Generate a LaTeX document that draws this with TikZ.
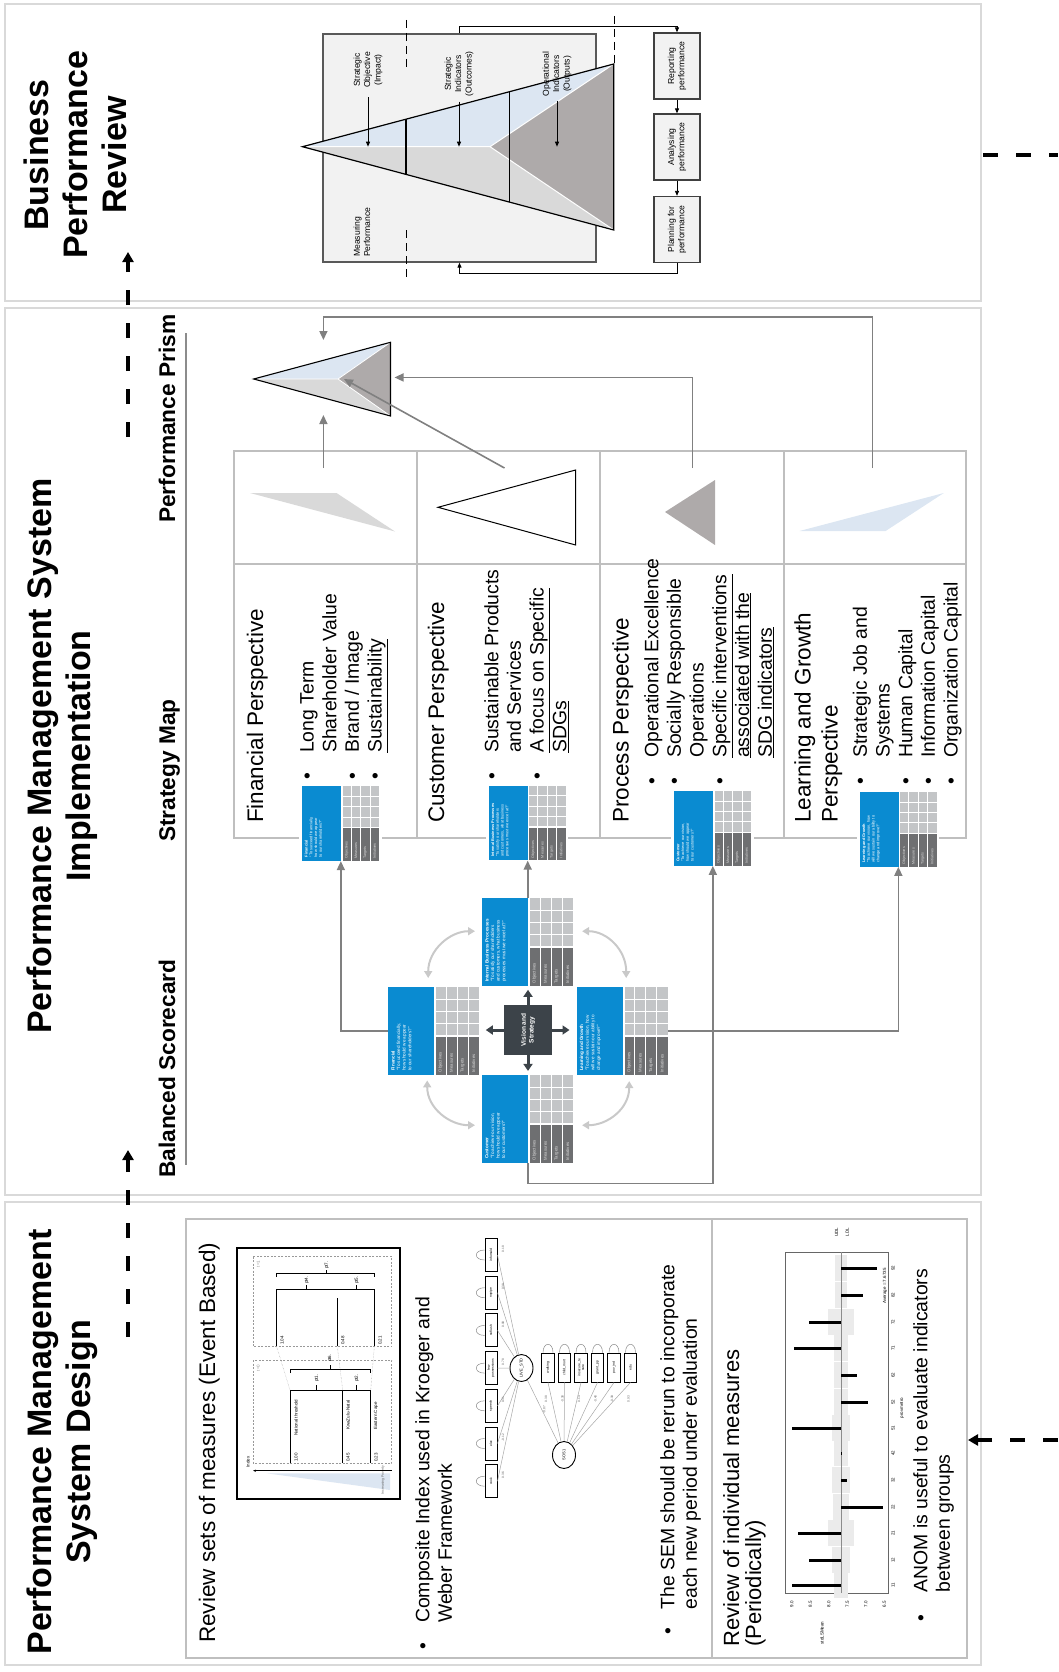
\documentclass[tikz,border=0pt]{standalone}
\usepackage{fontspec}
\setmainfont{Liberation Sans}
\usetikzlibrary{arrows.meta,calc,shapes.geometric}
\newcommand{\fsz}[2]{\fontsize{#1}{#2}\selectfont}
\newcommand{\itm}[1][27pt]{\makebox[#1][l]{\textbullet}}
\newcommand{\itmc}[1][27pt]{\hspace*{#1}}
\definecolor{pbord}{HTML}{D9D9D9}
\definecolor{tline}{HTML}{BFBFBF}
\definecolor{conn}{HTML}{808080}
\definecolor{lblue}{HTML}{DCE6F2}
\definecolor{lgray}{HTML}{D9D9D9}
\definecolor{dgray}{HTML}{AEAAAA}
\definecolor{rfill}{HTML}{F2F2F2}
\definecolor{bscblue}{HTML}{0A8BD1}
\definecolor{bsclight}{HTML}{C3C5C7}
\definecolor{bscdark}{HTML}{6E6F71}
\definecolor{vis}{HTML}{3C4349}
\definecolor{arcg}{HTML}{C9C9C9}
\tikzset{vt/.style={rotate=90,inner sep=0pt}}
\tikzset{ttl/.style={vt,font=\fsz{34}{39}\bfseries,align=center}}
\tikzset{sec/.style={vt,font=\fsz{22.7}{27}\bfseries}}
\tikzset{hd/.style={vt,font=\fsz{22.5}{27},align=left}}
\tikzset{lst/.style={vt,font=\fsz{19.4}{22.7},align=left}}
\tikzset{lbl/.style={vt,font=\fsz{8.6}{10.3},align=center}}
\tikzset{tnl/.style={vt,font=\fsz{4.5}{5.2},align=center}}
\tikzset{pbox/.style={vt,draw=black!75,fill=rfill,line width=1.3,minimum width=66,minimum height=46,font=\fsz{8.6}{10.3},align=center}}
\tikzset{panel/.style={draw=pbord,line width=2.5}}
\tikzset{tbl/.style={draw=tline,line width=1.6}}
\tikzset{con/.style={draw=conn,line width=1.6,-{Triangle[length=9pt,width=8pt]}}}
\tikzset{arcs/.style={draw=arcg,line width=2,{Triangle[length=7pt,width=8pt]}-{Triangle[length=7pt,width=8pt]}}}
\tikzset{varr/.style={draw=vis,line width=3,-{Triangle[length=7pt,width=9pt]}}}
\tikzset{dsh/.style={line width=4,dash pattern=on 15pt off 18pt}}
\tikzset{tarr/.style={line width=0.9,-{Triangle[length=5pt,width=4pt]}}}
\tikzset{semb/.style={vt,draw,line width=0.9,minimum width=33,minimum height=12,font=\fsz{3.4}{3.8},align=center}}
\tikzset{semc/.style={vt,ellipse,draw,line width=0.9,minimum width=27,minimum height=23,font=\fsz{4}{4.5}}}
\tikzset{semln/.style={draw=black!35,line width=0.5}}
\tikzset{semlp/.style={draw=black!45,line width=0.5}}
\tikzset{semn/.style={vt,font=\fsz{3.2}{3.6},text=black!60}}
\newcommand{\bsctile}[6]{%
\begin{scope}[shift={#2},scale=#3,transform shape]
  #6
  \node[minimum width=91,minimum height=88,inner sep=0pt,anchor=north west] (#1) at (0,0) {};
  \fill[bscblue] (0,0) rectangle (47,88);
  \fill[bsclight] (47,0) rectangle (91,49);
  \fill[bscdark] (47,49) rectangle (91,88);
  \foreach \k in {1,2,3} {
    \draw[white,line width=1] (47+11*\k,0) -- (47+11*\k,88);
    \draw[white,line width=1] (47,12.25*\k) -- (91,12.25*\k);}
  \draw[white,line width=1.6] (47,0) -- (47,88) (47,49) -- (91,49);
  \foreach \t [count=\k] in {Objectives,Measures,Targets,Initiatives}
    \node[vt,anchor=west,font=\fsz{4.3}{5},text=white!85!black] at (47+11*\k-5.5,85.5) {\t};
  \node[vt,anchor=north west,align=left,font=\fsz{4.6}{5.6},text=white] at (3,84) {\textbf{#4}\\#5};
\end{scope}}

\begin{document}
\begin{tikzpicture}[x=1pt,y=-1pt]
\useasboundingbox (0,0) rectangle (1058,1672);
\draw[panel] (5,4) rectangle (981,301);
\draw[panel] (5,308) rectangle (981,1195);
\draw[panel] (5,1202) rectangle (981,1665);

\node[ttl,anchor=north] (bpr) at (23.3,155) {Business\\Performance\\Review};
\node[ttl,anchor=north] (pmi) at (26.7,756) {Performance Management System\\Implementation};
\node[ttl,anchor=north] (pmd) at (26.7,1442) {Performance Management\\System Design};

\coordinate (d1a) at (128,1337);
\coordinate (d1b) at (128,1150);
\coordinate (d2a) at (128,437);
\coordinate (d2b) at (128,252);
\coordinate (d3a) at (983,155);
\coordinate (d3b) at (1058,155);
\coordinate (d4a) at (1058,1440);
\coordinate (d4b) at (968,1440);
\draw[dsh,-{Triangle[length=10pt,width=11pt]}] (d1a) -- (d1b);
\draw[dsh,-{Triangle[length=10pt,width=11pt]}] (d2a) -- (d2b);
\draw[dsh] (d3a) -- (d3b);
\draw[dsh,-{Triangle[length=10pt,width=11pt]}] (d4a) -- (d4b);

% business performance review
\node[draw=black!65,fill=rfill,line width=1.3,minimum width=273,minimum height=228,inner sep=0pt] (mp) at (459.5,148) {};
\coordinate (A) at (302.5,146.7);
\coordinate (T) at (613.7,64);
\coordinate (B) at (613.7,230);
\coordinate (I) at (490,146.7);
\fill[lblue] (A) -- (T) -- (I) -- cycle;
\fill[lgray] (A) -- (I) -- (B) -- cycle;
\fill[dgray] (T) -- (I) -- (B) -- cycle;
\draw[white,line width=1] (A) -- (I) -- (T) (I) -- (B);
\draw[line width=1.2] (A) -- (T) -- (B) -- cycle;
\draw[line width=1.1] (406,119.2) -- (406,174.4) (509.6,91.5) -- (509.6,202);
\draw[line width=0.8,dash pattern=on 8pt off 5pt] (406,20) -- (406,67) (406,230) -- (406,278) (614,16) -- (614,63);
\node[lbl] (so) at (368,70) {Strategic\\Objective\\(Impact)};
\node[lbl] (si) at (459,74) {Strategic\\Indicators\\(Outcomes)};
\node[lbl] (oi) at (557,74) {Operational\\Indicators\\(Outputs)};
\draw[tarr] ([yshift=-9pt]so.west) -- (so.west |- A);
\draw[tarr] ([yshift=-5pt]si.west) -- (si.west |- A);
\draw[tarr] ([yshift=-5pt]oi.west) -- (oi.west |- A);
\node[lbl,align=left,anchor=west] (mpl) at (362,257) {Measuring\\Performance};
\node[pbox] (rep) at (677,66) {Reporting\\performance};
\node[pbox] (ana) at (677,147) {Analysing\\performance};
\node[pbox] (pla) at (677,229.5) {Planning for\\performance};
\draw[tarr] (rep.west) -- (ana.east);
\draw[tarr] (ana.west) -- (pla.east);
\draw[tarr] (mp.north) -- ++(0,-7.3) -| (rep.east);
\draw[tarr] (pla.west) -- ++(0,10) -| (mp.south);

% performance management system implementation
\draw[draw=black!45,line width=1.3] (186,333) -- (186,1165);
\node[sec,anchor=base west] (bsc) at (175,1178) {Balanced Scorecard};
\node[sec,anchor=base west] (smap) at (175,842) {Strategy Map};
\node[sec,anchor=base west] (pprism) at (175,523) {Performance Prism};

\coordinate (pa) at (253.7,379);
\coordinate (pt) at (390.5,342.3);
\coordinate (pb) at (390.5,416);
\coordinate (pi) at (338,379);
\fill[lblue] (pa) -- (pt) -- (pi) -- cycle;
\fill[lgray] (pa) -- (pi) -- (pb) -- cycle;
\fill[dgray] (pt) -- (pi) -- (pb) -- cycle;
\draw[white,line width=0.8] (pa) -- (pi) -- (pt) (pi) -- (pb);
\draw[line width=1.1] (pa) -- (pt) -- (pb) -- cycle;

\draw[tbl] (234,451) rectangle (966,838);
\draw[tbl] (234,564) -- (966,564);
\foreach \x in {417,600,784} \draw[tbl] (\x,451) -- (\x,838);
\fill[lgray] (250,493) -- (336.5,493) -- (395,531.5) -- cycle;
\draw[fill=white,line width=1] (438,507.3) -- (575.6,470) -- (575.6,545) -- cycle;
\fill[dgray] (665,512) -- (715,480) -- (715,545) -- cycle;
\fill[lblue] (799.5,531) -- (885.6,531) -- (943.8,493) -- cycle;

\coordinate (i1) at (323.4,468);
\coordinate (i2) at (504.5,468);
\coordinate (i3) at (692.5,468);
\coordinate (i4) at (872.6,468);
\coordinate (pbot) at (323.4,415);
\coordinate (ptop) at (323.4,340);
\draw[con] (i1) -- (pbot);
\draw[con] (i2) -- ($(pi)+(6,0)$);
\draw[con] (i3) |- ($(pt)!0.5!(pb)+(4,-1.7)$);
\draw[con] (i4) |- ($(ptop)+(0,-23.3)$) -- (ptop);

\node[hd,anchor=base west] (fp) at (263,823) {Financial Perspective};
\node[lst,anchor=north west] (fl) at (300,780) {\itm Long Term\\\itmc Shareholder Value\\\itm Brand / Image\\\itm \underline{Sustainability}};
\node[hd,anchor=base west] (cp) at (444,823) {Customer Perspective};
\node[lst,anchor=north west] (cl) at (484,780) {\itm Sustainable Products\\\itmc and Services\\\itm \underline{A focus on Specific}\\\itmc \underline{SDGs}};
\node[hd,anchor=base west] (pp) at (628.6,823) {Process Perspective};
\node[lst,anchor=north west] (pl) at (644,785) {\itm Operational Excellence\\\itm Socially Responsible\\\itmc Operations\\\itm \underline{Specific interventions}\\\itmc \underline{associated with the}\\\itmc \underline{SDG indicators}};
\node[hd,anchor=north west] (lp) at (794,823) {Learning and Growth\\Perspective};
\node[lst,anchor=north west] (ll) at (852.6,785) {\itm Strategic Job and\\\itmc Systems\\\itm Human Capital\\\itm Information Capital\\\itm Organization Capital};

\bsctile{fin2}{(302,786)}{0.85}{Financial}{``To succeed financially,\\how should we appear\\to our shareholders?''}{\fill[white] (-3,-3) rectangle (94,91);}
\bsctile{ibp2}{(488.5,785.5)}{0.85}{Internal Business Processes}{``To satisfy our shareholders\\and customers, what business\\processes must we excel at?''}{\fill[white] (-3,-3) rectangle (94,91);}
\bsctile{cus2}{(674,790.7)}{0.85}{Customer}{``To achieve our vision,\\how should we appear\\to our customers?''}{\fill[white] (-3,-3) rectangle (94,91);}
\bsctile{lng2}{(859.5,791.7)}{0.85}{Learning and Growth}{``To achieve our vision, how\\will we sustain our ability to\\change and improve?''}{\fill[white] (-3,-3) rectangle (94,91);}

\bsctile{ibp}{(482,898)}{1}{Internal Business Processes}{``To satisfy our shareholders\\and customers, what business\\processes must we excel at?''}{}
\bsctile{fin}{(388,987)}{1}{Financial}{``To succeed financially,\\how should we appear\\to our shareholders?''}{}
\bsctile{lng}{(576.7,987)}{1}{Learning and Growth}{``To achieve our vision, how\\will we sustain our ability to\\change and improve?''}{}
\bsctile{cus}{(482,1075)}{1}{Customer}{``To achieve our vision,\\how should we appear\\to our customers?''}{}
\node[vt,fill=vis,minimum width=50,minimum height=48,text=white,font=\fsz{6.5}{7.8}\bfseries,align=center] (vs) at (528,1030) {Vision and\\Strategy};
\draw[varr] (vs.east) -- ++(0,-15);
\draw[varr] (vs.west) -- ++(0,15.7);
\draw[varr] (vs.north) -- ++(-18,0);
\draw[varr] (vs.south) -- ++(17.3,0);
\draw[arcs] ($(fin.north)+(-5.5,-9)$) .. controls +(0,-28) and +(-25,0) .. ($(ibp.west)+(-7,-11)$);
\draw[arcs] ($(ibp.east)+(8.7,-11)$) .. controls +(25,0) and +(0,-28) .. ($(lng.north)+(3.8,-9)$);
\draw[arcs] ($(fin.south)+(-6.5,5)$) .. controls +(0,28) and +(-25,0) .. ($(cus.west)+(-7,6)$);
\draw[arcs] ($(cus.east)+(8.7,6)$) .. controls +(25,0) and +(0,28) .. ($(lng.south)+(6.8,5.7)$);
\draw[con] (fin.west) -| (fin2.south);
\draw[con] (ibp.north) -- (ibp.north |- ibp2.south);
\draw[con] (lng.east) -| (lng2.south);
\draw[con] (cus.south) -- ++(0,20) -| (cus2.south);

% performance management system design
\draw[tbl] (186,1219) rectangle (967,1658);
\draw[tbl] (712,1219) -- (712,1658);
\node[hd,anchor=base west] (rs) at (215,1643) {Review sets of measures (Event Based)};
\node[draw,line width=1.2,fill=white,minimum width=163,minimum height=251,inner sep=0pt] (gbox) at (318.5,1373.5) {};
\draw[black!40,dash pattern=on 2pt off 1.5pt,line width=0.6] (253.3,1256.7) rectangle (391.7,1346.7) (253.3,1360) rectangle (391.7,1463.3);
\node[tnl,text=black!40] at (258.3,1264) {t=1};
\node[tnl,text=black!40] at (258.3,1368) {t=0};
\fill[lblue] (266.7,1473.3) -- (390,1473.3) -- (390,1490) -- cycle;
\node[tnl,text=black!60,font=\fsz{3.5}{4}] at (383,1480) {Increasing Poverty};
\draw[line width=0.6,-{Stealth[length=3pt]}] (391.7,1470.7) -- (253,1470.7);
\node[tnl] at (248,1462) {Index};
\draw[line width=1] (290,1390) -- (290,1463) (342.7,1390) -- (342.7,1463) (370.7,1390) -- (370.7,1463);
\draw[line width=1] (290,1390) -- (370.7,1390) (316.7,1390) -- (316.7,1385) (356.7,1390) -- (356.7,1385);
\draw[line width=1] (290.7,1373) -- (290.7,1369) -- (370.7,1369) -- (370.7,1373) (330,1369) -- (330,1365);
\node[tnl,anchor=west] at (296,1436) {National threshold};
\node[tnl,anchor=west] at (348,1430) {KwaZulu-Natal};
\node[tnl,anchor=west] at (376,1430) {Eastern Cape};
\node[tnl,anchor=west] at (296,1462) {1.00};
\node[tnl,anchor=west] at (348,1462) {0.45};
\node[tnl,anchor=west] at (376,1462) {0.23};
\node[tnl] at (316.7,1378) {pt1.};
\node[tnl] at (356.7,1378) {pt2.};
\node[tnl] at (330,1358) {pt6.};
\draw[line width=1] (276.7,1298) -- (276.7,1346) (337.3,1298) -- (337.3,1346) (374.3,1298) -- (374.3,1346);
\draw[line width=1] (276.7,1298) -- (276.7,1289) -- (374.3,1289) -- (374.3,1298) (306.7,1289) -- (306.7,1285) (356.7,1289) -- (356.7,1285);
\draw[line width=1] (276.7,1277) -- (276.7,1273) -- (374.3,1273) -- (374.3,1277) (326.7,1273) -- (326.7,1270);
\node[tnl] at (306.7,1280) {pt4.};
\node[tnl] at (356.7,1280) {pt5.};
\node[tnl] at (326.7,1265) {pt7.};
\node[tnl,anchor=west] at (282,1345) {1.04};
\node[tnl,anchor=west] at (342.7,1345) {0.48};
\node[tnl,anchor=west] at (380,1345) {0.21};
\draw[black!40,densely dotted] (290,1390) -- (276.7,1346.7) (342.7,1390) -- (337.3,1346.7) (370.7,1390) -- (374.3,1346.7);

\node[lst,anchor=north west] (ci) at (415,1650) {\itm Composite Index used in Kroeger and\\\itmc Weber Framework};
\node[semc] (live) at (521.5,1368) {LIVE\_STD};
\node[semc] (sos) at (564,1455) {SOS1};
\draw[semln] (sos) -- (live) node[pos=0.45,semn,right=1pt] {-0.87};
\foreach \t/\n [count=\k from 0] in {infomald/0.18,nopipe/0.38,noflush/0.90,few\\possessions/0.78,speech/0.31,elec/-0.12,cook/0.36} {
  \node[semb] (s\k) at (491,1255+37.7*\k) {\t};
  \draw[semln] (live) -- (s\k.south);
  \draw[semlp] ($(s\k.north)+(0,5)$) .. controls +(-11,0) and +(-11,0) .. ($(s\k.north)+(0,-5)$);
  \node[semn] at (503,1249+37.7*\k) {\n};
}
\foreach \t/\n [count=\k from 0] in {walking/0.38,child\_mort/-0.38,insecure\_te\\nure/0.14,grant\_pp/-0.40,pov\_ind/-0.39,edu/0.93} {
  \node[semb,minimum width=29,minimum height=12.6] (b\k) at (548+16.5*\k,1367.5) {\t};
  \draw[semln] (sos) -- (b\k.west);
  \draw[semlp] ($(b\k.east)+(-5,0)$) .. controls +(0,-11) and +(0,-11) .. ($(b\k.east)+(5,0)$);
  \node[semn] at (546+16.5*\k,1399) {\n};
}
\node[lst,anchor=north west] (sem) at (660,1635) {\itm[20pt] The SEM should be rerun to incorporate\\\itmc[20pt] each new period under evaluation};

\node[hd,anchor=north west,font=\fsz{22}{22}] (ri) at (723,1647) {Review of individual measures\\(Periodically)};
\draw[draw=black!60,line width=0.6] (785,1252) rectangle (888,1593);
\foreach \g/\p/\v/\h in {11/1585/791.7/7,12/1560/809/9,21/1533/798/13,22/1507/882.7/8,32/1480/847/9,42/1453/840.5/7,51/1428/791.7/9,52/1402/867.7/7,62/1375/857/7,71/1348/794/7,72/1322/809/13,82/1295/863/6,92/1268/877/6}
  \fill[black!8] (841-\h,\p-13.3) rectangle (841+\h,\p+13.3);
\draw[draw=black!45,line width=0.6] (841,1252) -- (841,1593);
\foreach \g/\p/\v in {11/1585/791.7,12/1560/809,21/1533/798,22/1507/882.7,32/1480/847,42/1453/840.5,51/1428/791.7,52/1402/867.7,62/1375/857,71/1348/794,72/1322/809,82/1295/863,92/1268/877} {
  \draw[line width=3] (841,\p) -- (\v,\p);
  \node[tnl] at (893,\p) {\g};
}
\foreach \t/\x in {9.0/791.7,8.5/810.3,8.0/828.8,7.5/847.3,7.0/865.8,6.5/884.3}
  \node[tnl] at (\x,1604) {\t};
\node[tnl] at (836.7,1232) {UDL};
\node[tnl] at (847.3,1232) {LDL};
\node[tnl] at (885,1286) {Average = 7.6735};
\node[tnl] at (902,1408) {provmetro};
\node[tnl] at (822,1633) {stdLSMean};
\node[lst,anchor=north west] (an) at (913,1622) {\itm[24pt] ANOM is useful to evaluate indicators\\\itmc[24pt] between groups};
\end{tikzpicture}
\end{document}
